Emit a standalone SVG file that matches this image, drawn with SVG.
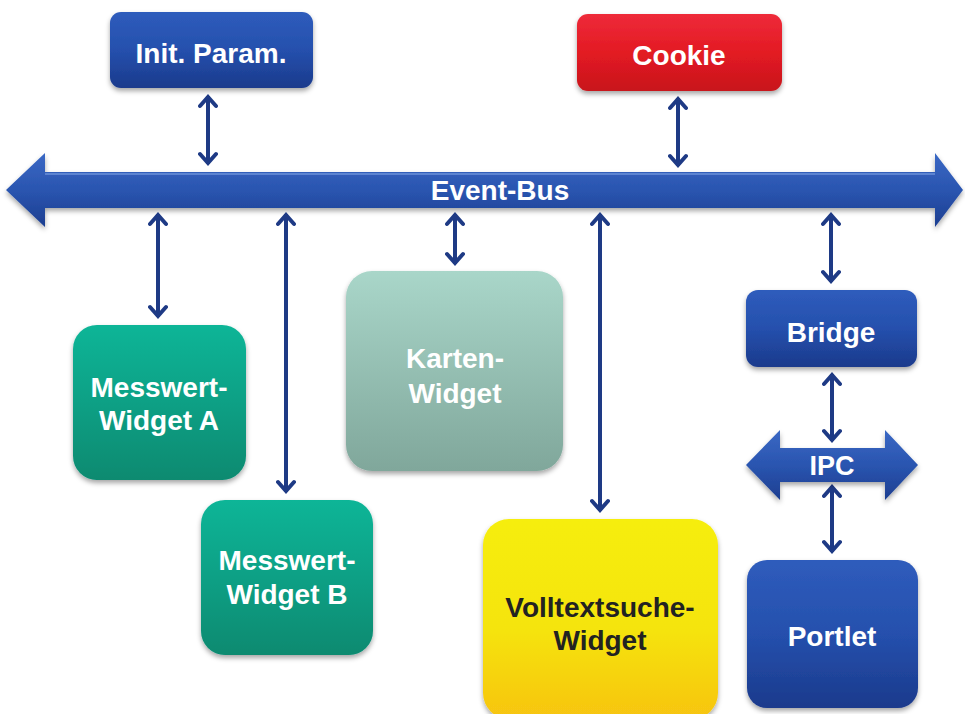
<svg xmlns="http://www.w3.org/2000/svg" width="965" height="714" viewBox="0 0 965 714">
<defs>
<linearGradient id="gBlue" x1="0" y1="0" x2="0" y2="1"><stop offset="0" stop-color="#2f5cbc"/><stop offset="0.5" stop-color="#2550ad"/><stop offset="1" stop-color="#1b3a8c"/></linearGradient>
<linearGradient id="gRed" x1="0" y1="0" x2="0" y2="1"><stop offset="0" stop-color="#ee2a3a"/><stop offset="0.5" stop-color="#e31b23"/><stop offset="1" stop-color="#c8141c"/></linearGradient>
<linearGradient id="gGreen" x1="0" y1="0" x2="0" y2="1"><stop offset="0" stop-color="#0db597"/><stop offset="0.5" stop-color="#0aa085"/><stop offset="1" stop-color="#078a70"/></linearGradient>
<linearGradient id="gKarten" x1="0" y1="0" x2="0" y2="1"><stop offset="0" stop-color="#a9d6c9"/><stop offset="1" stop-color="#80a79b"/></linearGradient>
<linearGradient id="gYellow" x1="0" y1="0" x2="0" y2="1"><stop offset="0" stop-color="#f6ee0c"/><stop offset="0.55" stop-color="#f5e40c"/><stop offset="1" stop-color="#f7c412"/></linearGradient>
<linearGradient id="gBus" x1="0" y1="0" x2="0" y2="1"><stop offset="0" stop-color="#3a68c4"/><stop offset="0.5" stop-color="#2a55b0"/><stop offset="1" stop-color="#1d3e90"/></linearGradient>
<filter id="shadow" x="-10%" y="-10%" width="120%" height="125%"><feDropShadow dx="0" dy="3" stdDeviation="2.5" flood-color="#000" flood-opacity="0.35"/></filter>
<marker id="head" viewBox="-14 -10 16 20" refX="0" refY="0" markerWidth="16" markerHeight="20" markerUnits="userSpaceOnUse" orient="auto-start-reverse">
<path d="M-10,-8 L-1,0 L-10,8" fill="none" stroke="#1e3a85" stroke-width="4" stroke-linejoin="miter" stroke-linecap="round"/>
</marker>
</defs>
<style>
.lbl{font-family:"Liberation Sans",Arial,sans-serif;font-weight:bold;font-size:28px;fill:#ffffff;text-anchor:middle}
.dark{fill:#222222}
.conn{stroke:#1e3a85;stroke-width:4;fill:none;marker-start:url(#head);marker-end:url(#head)}
</style>
<rect width="965" height="714" fill="#ffffff"/>

<g id="event-bus">
<polygon points="6,190 45,153 45,172 935,172 935,153 963,190 935,227 935,208 45,208 45,227" fill="url(#gBus)" filter="url(#shadow)"/>
<line x1="45" y1="174" x2="935" y2="174" stroke="#6f95dc" stroke-width="2" opacity="0.7"/>
<text class="lbl" x="500" y="200">Event-Bus</text>
</g>

<g id="connectors">
<line class="conn" x1="208" y1="96" x2="208" y2="164"/>
<line class="conn" x1="678" y1="98" x2="678" y2="166"/>
<line class="conn" x1="158" y1="214" x2="158" y2="317"/>
<line class="conn" x1="286" y1="214" x2="286" y2="492"/>
<line class="conn" x1="455" y1="214" x2="455" y2="264"/>
<line class="conn" x1="600" y1="214" x2="600" y2="511"/>
<line class="conn" x1="831" y1="214" x2="831" y2="282"/>
<line class="conn" x1="832" y1="374" x2="832" y2="441"/>
<line class="conn" x1="832" y1="486" x2="832" y2="552"/>
</g>

<g id="init-param">
<rect x="110" y="12" width="203" height="76" rx="11" fill="url(#gBlue)" filter="url(#shadow)"/>
<text class="lbl" x="211" y="63">Init. Param.</text>
</g>

<g id="cookie">
<rect x="577" y="14" width="205" height="77" rx="11" fill="url(#gRed)" filter="url(#shadow)"/>
<text class="lbl" x="679" y="65">Cookie</text>
</g>

<g id="messwert-a">
<rect x="73" y="325" width="173" height="155" rx="24" fill="url(#gGreen)" filter="url(#shadow)"/>
<text class="lbl" x="159" y="397">Messwert-</text>
<text class="lbl" x="159" y="430">Widget A</text>
</g>

<g id="messwert-b">
<rect x="201" y="500" width="172" height="155" rx="24" fill="url(#gGreen)" filter="url(#shadow)"/>
<text class="lbl" x="287" y="570">Messwert-</text>
<text class="lbl" x="287" y="604">Widget B</text>
</g>

<g id="karten">
<rect x="346" y="271" width="217" height="200" rx="26" fill="url(#gKarten)" filter="url(#shadow)"/>
<text class="lbl" x="455" y="368">Karten-</text>
<text class="lbl" x="455" y="403">Widget</text>
</g>

<g id="volltextsuche">
<rect x="483" y="519" width="235" height="200" rx="26" fill="url(#gYellow)" filter="url(#shadow)"/>
<text class="lbl dark" x="600" y="617">Volltextsuche-</text>
<text class="lbl dark" x="600" y="650">Widget</text>
</g>

<g id="bridge">
<rect x="746" y="290" width="171" height="77" rx="12" fill="url(#gBlue)" filter="url(#shadow)"/>
<text class="lbl" x="831" y="342">Bridge</text>
</g>

<g id="ipc">
<polygon points="746,465 780,430 780,448 885,448 885,430 918,465 885,500 885,482 780,482 780,500" fill="url(#gBus)" filter="url(#shadow)"/>
<text class="lbl" x="832" y="475" style="font-size:27px">IPC</text>
</g>

<g id="portlet">
<rect x="747" y="560" width="171" height="148" rx="20" fill="url(#gBlue)" filter="url(#shadow)"/>
<text class="lbl" x="832" y="646">Portlet</text>
</g>
</svg>
